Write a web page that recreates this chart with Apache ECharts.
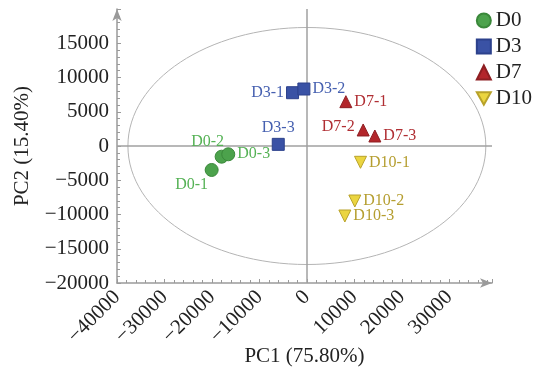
<!DOCTYPE html>
<html>
<head>
<meta charset="utf-8">
<script src="https://cdn.jsdelivr.net/npm/echarts@6/dist/echarts.min.js"></script>
<style>
  html, body { margin: 0; padding: 0; background: #fff; }
  #chart { width: 541px; height: 374px; }
</style>
</head>
<body>
<div id="chart"></div>
<script>
// sample names and PCA scores (PC1, PC2)
const d0Names = ['D0-1', 'D0-2', 'D0-3'];
const d0Points = [[-20060, -3500], [-17960, -1560], [-16560, -1210]];
const d3Names = ['D3-1', 'D3-2', 'D3-3'];
const d3Points = [[-3020, 7780], [-630, 8320], [-6030, 240]];
const d7Names = ['D7-1', 'D7-2', 'D7-3'];
const d7Points = [[8210, 6470], [11860, 2340], [14320, 1460]];
const d10Names = ['D10-1', 'D10-2', 'D10-3'];
const d10Points = [[11300, -2380], [10100, -8030], [8000, -10220]];

// confidence ellipse: centre and semi-axes in data units
const ellipseCenter = [0, 0];
const ellipseRadii = [37700, 17300];

const font = 'Liberation Serif, Times New Roman, serif';
const axisGrey = '#9a9a9a';

// where each point's label sits
const labelPos = {
    'D0-1': {position: 'bottom', offset: [-20, -2]},
    'D0-2': {position: 'top', offset: [-14, 2]},
    'D0-3': {position: 'right'},
    'D3-1': {position: 'left'},
    'D3-2': {position: 'right'},
    'D3-3': {position: 'top'},
    'D7-1': {position: 'right'},
    'D7-2': {position: 'left', offset: [0, -3]},
    'D7-3': {position: 'right'},
    'D10-1': {position: 'right'},
    'D10-2': {position: 'right'},
    'D10-3': {position: 'right'}
};

const downTriangle = 'path://M0,0 L10,0 L5,9 Z';

function makeSeries(name, names, points, symbol, fill, border, labelColor, size) {
    return {
        name: name,
        type: 'scatter',
        symbol: symbol,
        symbolSize: size,
        itemStyle: {color: fill, borderColor: border, borderWidth: 1, opacity: 1},
        label: {show: true, color: labelColor, fontFamily: font, fontSize: 16, distance: 2},
        data: points.map((p, i) => {
            return {name: names[i], value: p, label: Object.assign({formatter: names[i]}, labelPos[names[i]])};
        }),
        z: 5
    };
}

const chart = echarts.init(document.getElementById('chart'));

let series = [
    {
        name: 'ellipse',
        type: 'custom',
        silent: true,
        renderItem: function (params, api) {
            const c = api.coord([api.value(0), api.value(1)]);
            const s = api.size([api.value(2), api.value(3)]);
            return {
                type: 'ellipse',
                shape: {cx: c[0], cy: c[1], rx: s[0], ry: s[1]},
                style: {fill: 'none', stroke: '#b4b4b4', lineWidth: 1}
            };
        },
        data: [[ellipseCenter[0], ellipseCenter[1], ellipseRadii[0], ellipseRadii[1]]],
        z: 1
    },
    {
        name: 'zero',
        type: 'scatter',
        data: [],
        markLine: {
            silent: true,
            symbol: 'none',
            label: {show: false},
            lineStyle: {color: '#a0a0a0', width: 1.5, type: 'solid'},
            data: [{xAxis: 0}, {yAxis: 0}]
        },
        z: 2
    },
    makeSeries('D0', d0Names, d0Points, 'circle', '#4ca24c', '#3a883a', '#55b255', 13),
    makeSeries('D3', d3Names, d3Points, 'rect', '#3a52a5', '#2c418c', '#4660b0', 12),
    makeSeries('D7', d7Names, d7Points, 'triangle', '#b3262b', '#8e1e22', '#b02e33', 12),
    makeSeries('D10', d10Names, d10Points, downTriangle, '#ebd540', '#b8a22a', '#b59e30', 12)
];

let option = {
    animation: false,
    grid: {left: 117, right: 49, top: 9, bottom: 91, containLabel: false, outerBoundsMode: 'none'},
    legend: {
        data: [
            {name: 'D0', icon: 'circle'},
            {name: 'D3', icon: 'rect'},
            {name: 'D7', icon: 'triangle'},
            {name: 'D10', icon: downTriangle}
        ],
        orient: 'vertical',
        right: 4,
        top: 5,
        itemWidth: 14,
        itemHeight: 14,
        itemGap: 5,
        textStyle: {fontFamily: font, fontSize: 21, color: '#222'}
    },
    xAxis: {
        type: 'value',
        min: -40000,
        max: 39000,
        interval: 10000,
        name: 'PC1 (75.80%)',
        nameLocation: 'middle',
        nameGap: 63,
        nameMoveOverlap: false,
        nameTextStyle: {fontFamily: font, fontSize: 21, color: '#222'},
        axisLine: {onZero: false, symbol: ['none', 'arrow'], symbolSize: [7, 12], lineStyle: {color: axisGrey, width: 1.5}},
        axisTick: {inside: true, length: 4, lineStyle: {color: axisGrey}},
        minorTick: {show: true, splitNumber: 5, length: 3, lineStyle: {color: axisGrey}},
        axisLabel: {rotate: 45, fontFamily: font, fontSize: 21, color: '#222', showMaxLabel: false, margin: 11,
            formatter: function (v) { return String(v).replace('-', '\u2212'); }},
        splitLine: {show: false}
    },
    yAxis: {
        type: 'value',
        min: -20000,
        max: 20000,
        interval: 5000,
        name: 'PC2 (15.40%)',
        nameLocation: 'middle',
        nameGap: 84,
        nameMoveOverlap: false,
        nameTextStyle: {fontFamily: font, fontSize: 21, color: '#222'},
        axisLine: {onZero: false, symbol: ['none', 'arrow'], symbolSize: [7, 12], lineStyle: {color: axisGrey, width: 1.5}},
        axisTick: {inside: true, length: 4, lineStyle: {color: axisGrey}},
        minorTick: {show: true, splitNumber: 5, length: 3, lineStyle: {color: axisGrey}},
        axisLabel: {fontFamily: font, fontSize: 21, color: '#222', showMaxLabel: false, margin: 8,
            formatter: function (v) { return String(v).replace('-', '\u2212'); }},
        splitLine: {show: false}
    },
    series: series
};

chart.setOption(option);
</script>
</body>
</html>
